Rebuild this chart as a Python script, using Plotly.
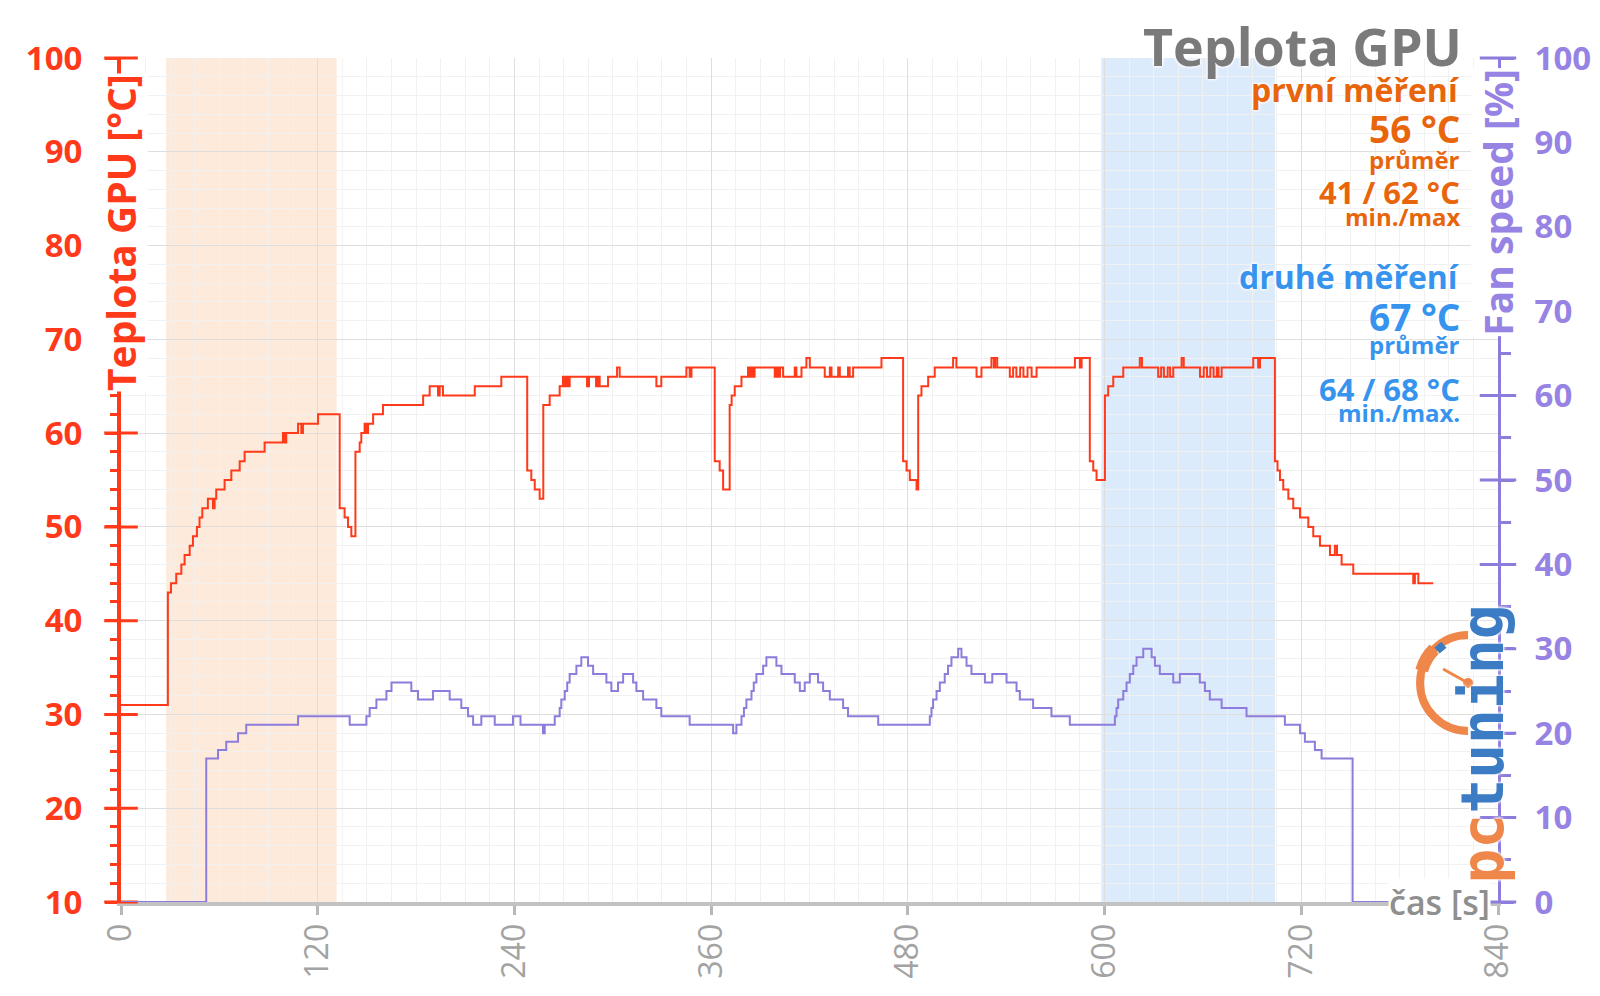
import base64

import plotly.graph_objects as go

RED = "#FF3A1A"
PURPLE = "#8E7CDC"
PURPLE_TXT = "#9683E4"
ORANGE_TXT = "#E8650C"
BLUE_TXT = "#3794EE"
GRAY = "#8f8f8f"
FONT = "Open Sans"

# GPU temperature [°C] - change points (held until next point)
temp_time = [
    0, 28.6, 30.5, 33.7, 36.8, 38.8, 41.9, 43.9, 46.3, 47.9, 49.6, 53.0, 56.1, 57.1,
    58.1, 63.2, 67.3, 72.4, 75.4, 87.6, 98.8, 99.8, 100.8, 108, 110, 111, 120.2,
    133.4, 136.4, 138.5, 140.5, 143.0, 145.6, 146.6, 148.6, 149.7, 150.7, 153.8,
    159.8, 184.3, 188.3, 193.4, 194.4, 196.4, 215.8, 232, 247.8, 250.3, 252.4,
    255.4, 257.6, 261.5, 267.6, 269.6, 270.6, 271.6, 272.6, 273.7, 284.3, 285.5,
    289.8, 291, 292, 297.1, 302.6, 304.2, 326.6, 329.6, 344.9, 346.9, 348, 362.2,
    365.2, 367.3, 371.3, 372.5, 374.4, 378.5, 382.5, 383.5, 384.5, 385.5, 386.5,
    398.8, 400, 401, 402, 403.9, 411, 412, 415.1, 418.1, 420.2, 429.3, 432.4,
    433.4, 437.5, 438.5, 443.5, 444.5, 446.6, 463.9, 477.1, 479.2, 481.2, 485.3,
    486.3, 488.3, 492.4, 496.4, 507.6, 509.6, 521.9, 524.9, 531, 532.5, 533.2,
    534.5, 542.2, 544.2, 546.2, 548.5, 550.5, 553, 555.5, 558.5, 581.9, 584.9,
    586, 591, 593.1, 595.1, 600.2, 602.2, 605.3, 611.4, 621.5, 622.8, 632.7,
    634.5, 636.2, 638.5, 640, 641.9, 647, 648.3, 658.2, 660.5, 662.5, 664.5,
    666.5, 668.5, 669.5, 671.4, 690.7, 693.7, 694.8, 703.9, 705.5, 707, 709,
    712.1, 715.1, 719.2, 724.3, 727.3, 731.4, 737.5, 740.5, 741.8, 744.6, 751.7,
    788.3, 789.3, 791.4, 800.5,
]
temp_value = [
    31, 43, 44, 45, 46, 47, 48, 49, 50, 51, 52, 53, 52, 53,
    54, 55, 56, 57, 58, 59, 60, 59, 60, 61, 60, 61, 62,
    52, 51, 50, 49, 58, 59, 60, 61, 60, 61, 62,
    63, 64, 65, 64, 65, 64, 65, 66, 56, 55, 54,
    53, 63, 64, 65, 66, 65, 66, 65, 66, 65, 66,
    65, 66, 65, 66, 67, 66, 65, 66, 67, 66, 67, 57,
    56, 54, 63, 64, 65, 66, 67, 66, 67, 66, 67,
    66, 67, 66, 67, 66, 67, 66, 67, 68, 67, 66, 67,
    66, 67, 66, 67, 66, 67, 68, 57, 56, 55, 54,
    64, 65, 66, 67, 68, 67, 66, 67, 68, 67, 68,
    67, 66, 67, 66, 67, 66, 67, 66, 67, 68, 67,
    68, 57, 56, 55, 64, 65, 66, 67, 68, 67, 66,
    67, 66, 67, 66, 67, 68, 67, 66, 67, 66, 67,
    66, 67, 66, 67, 68, 67, 68, 57, 56, 55, 54,
    53, 52, 51, 50, 49, 48, 47, 48, 47, 46, 45,
    44, 45, 44, 44,
]

# fan speed [%]
fan_time = [
    0, 52.0, 59.2, 64.2, 71.4, 76.4, 108, 139.5, 149.7, 151.7, 155.8, 161.9, 165,
    177.1, 181.2, 190.3, 200.5, 207.6, 211.7, 214.8, 219.8, 228, 239.1, 243.7,
    257.4, 258.5, 264.6, 267.6, 268.6, 270.7, 272.2, 273.7, 277.8, 280.8, 284.9,
    288, 296.1, 299.1, 303.2, 306.3, 312.4, 314.4, 318.5, 326.6, 329.6, 346.9,
    373.4, 375.4, 378.5, 380, 381.5, 384.6, 386, 387.6, 391.7, 393.7, 399.8,
    402.9, 411, 414.1, 417.1, 420.2, 425.2, 428.3, 432.4, 440.5, 443.5, 461.9,
    493.4, 494.4, 495.4, 497.5, 499.5, 502.5, 504.5, 506.6, 510.7, 512.7, 515.8,
    518.8, 527, 531.5, 540.2, 546.3, 548.3, 556.4, 567.6, 578.8, 606.3, 607.3,
    608.3, 611.4, 613.4, 615.4, 617.5, 619.5, 623.6, 628.7, 630.7, 633.7, 641.9,
    645.9, 658.1, 661.2, 664.2, 671.4, 686.6, 710, 719.2, 722.2, 728.3, 732.4,
    751.3, 800.5,
]
fan_value = [
    0, 17, 18, 19, 20, 21, 22, 21, 22, 23, 24, 25, 26,
    25, 24, 25, 24, 23, 22, 21, 22, 21, 22, 21,
    20, 21, 22, 23, 24, 25, 26, 27, 28, 29, 28,
    27, 26, 25, 26, 27, 26, 25, 24, 23, 22, 21,
    20, 21, 22, 23, 24, 25, 26, 27, 28, 29, 28,
    27, 26, 25, 26, 27, 26, 25, 24, 23, 22, 21,
    22, 23, 24, 25, 26, 27, 28, 29, 30, 29, 28,
    27, 26, 27, 26, 25, 24, 23, 22, 21, 22, 23,
    24, 25, 26, 27, 28, 29, 30, 29, 28, 27, 26,
    27, 26, 25, 24, 23, 22, 21, 20, 19, 18, 17,
    0, 0,
]

# highlighted measurement windows [s]
first_window = [27.5, 131.5]
second_window = [598, 704]

temp_ticks = list(range(10, 101, 10))
fan_ticks = list(range(0, 101, 10))
time_ticks = list(range(0, 841, 120))

notes = [
    ("první měření", 32, ORANGE_TXT, 96.6),
    ("56 °C", 37, ORANGE_TXT, 92.5),
    ("průměr", 24, ORANGE_TXT, 89.2),
    ("41 / 62 °C", 31, ORANGE_TXT, 85.7),
    ("min./max", 24, ORANGE_TXT, 83.1),
    ("druhé měření", 32, BLUE_TXT, 76.7),
    ("67 °C", 37, BLUE_TXT, 72.4),
    ("průměr", 24, BLUE_TXT, 69.5),
    ("64 / 68 °C", 31, BLUE_TXT, 64.7),
    ("min./max.", 24, BLUE_TXT, 62.2),
]

HALO = "0 0 3px white, 0 0 3px white, 0 0 4px white"

fig = go.Figure()

fig.add_vrect(x0=first_window[0], x1=first_window[1], fillcolor="#FDEADA",
              line_width=0, layer="below")
fig.add_vrect(x0=second_window[0], x1=second_window[1], fillcolor="#DCEBFC",
              line_width=0, layer="below")

fig.add_trace(go.Scatter(
    x=fan_time, y=fan_value, yaxis="y2", mode="lines", line_shape="hv",
    line=dict(color=PURPLE, width=2), cliponaxis=False, hoverinfo="skip",
))
fig.add_trace(go.Scatter(
    x=temp_time, y=temp_value, mode="lines", line_shape="hv",
    line=dict(color=RED, width=2), cliponaxis=False, hoverinfo="skip",
))

# crossing major ticks on both value axes
fig.add_trace(go.Scatter(
    x=[0] * len(temp_ticks), y=temp_ticks, mode="markers", cliponaxis=False,
    marker=dict(symbol="line-ew", size=24, line=dict(color=RED, width=3)),
    hoverinfo="skip",
))
fig.add_trace(go.Scatter(
    x=[840] * len(fan_ticks), y=fan_ticks, yaxis="y2", mode="markers", cliponaxis=False,
    marker=dict(symbol="line-ew", size=26, line=dict(color=PURPLE, width=3)),
    hoverinfo="skip",
))

# the page body adds an 8 px offset, so the figure is 8 px smaller on each side
fig.update_layout(
    width=1592, height=988,
    margin=dict(l=113, r=102, t=50, b=94),
    plot_bgcolor="white", paper_bgcolor="white",
    showlegend=False,
    font=dict(family=FONT),
    xaxis=dict(
        range=[0, 840], tickvals=time_ticks, tickangle=-90, automargin=False,
        tickfont=dict(size=32, color="#a3a3a3"),
        ticks="outside", ticklen=9, tickwidth=3, tickcolor="#b8b8b8",
        ticklabelstandoff=-4,
        showline=True, linecolor="#c2c2c2", linewidth=4, layer="below traces",
        showgrid=True, gridcolor="#dedede", gridwidth=1, zeroline=False,
        minor=dict(dtick=15, showgrid=True, gridcolor="#f1f1f1"),
    ),
    yaxis=dict(
        range=[10, 100], tickvals=temp_ticks, automargin=False,
        tickfont=dict(size=33, color=RED, weight="bold"),
        ticks="outside", ticklen=12, tickwidth=3, tickcolor=RED,
        ticklabelstandoff=16,
        showline=True, linecolor=RED, linewidth=4,
        showgrid=True, gridcolor="#dedede", gridwidth=1, zeroline=False,
        minor=dict(dtick=2, ticks="outside", ticklen=7, tickwidth=3, tickcolor=RED,
                   showgrid=True, gridcolor="#f1f1f1"),
    ),
    yaxis2=dict(
        range=[0, 100], tickvals=fan_ticks, overlaying="y", side="right",
        automargin=False,
        tickfont=dict(size=33, color=PURPLE_TXT, weight="bold"),
        ticks="outside", ticklen=13, tickwidth=3, tickcolor=PURPLE,
        ticklabelstandoff=14,
        showline=True, linecolor=PURPLE, linewidth=3,
        showgrid=False, zeroline=False,
        minor=dict(dtick=5, ticks="outside", ticklen=10, tickwidth=3, tickcolor=PURPLE),
    ),
)

fig.add_annotation(
    text="<b>Teplota GPU</b>", xref="paper", yref="paper", x=0.9752, y=1.0154,
    xanchor="right", yanchor="middle", showarrow=False,
    font=dict(size=52, color="#7a7a7a", family=FONT, shadow=HALO),
)
for text, size, color, y in notes:
    fig.add_annotation(
        text=f"<b>{text}</b>", xref="x", yref="y", x=817.5, y=y,
        xanchor="right", yanchor="middle", showarrow=False, borderpad=0,
        font=dict(size=size, color=color, family=FONT, shadow=HALO),
    )

# axis titles sitting on the axis lines
fig.add_annotation(
    text="<b>Teplota GPU [°C]</b>", xref="x", yref="y", x=0, y=98.35,
    xanchor="center", yanchor="top", textangle=-90, showarrow=False,
    bgcolor="white", borderpad=0, font=dict(size=39, color=RED, family=FONT),
)
fig.add_annotation(
    text="<b>Fan speed [%]</b>", xref="x", yref="y2", x=840, y=98.8,
    xanchor="center", yanchor="top", textangle=-90, showarrow=False,
    bgcolor="white", borderpad=0, font=dict(size=39, color=PURPLE_TXT, family=FONT),
)
fig.add_annotation(
    text="čas [s]", xref="x", yref="y2", x=836, y=0,
    xanchor="right", yanchor="middle", showarrow=False,
    bgcolor="white", borderpad=0, font=dict(size=34, color=GRAY, family=FONT, weight=600),
)

# pctuning logo: text + gauge drawing
fig.add_annotation(
    text="<span style='color:#F0874A'>pc</span><span style='color:#3C7CC4'>tuning</span>",
    xref="paper", yref="paper", x=0.9888, y=0.1872, xanchor="center", yanchor="middle",
    textangle=-90, showarrow=False,
    font=dict(size=58, family="DejaVu Sans Mono", weight="bold", shadow=HALO),
)
gauge_svg = (
    "<svg xmlns='http://www.w3.org/2000/svg' width='120' height='120' viewBox='0 0 120 120'>"
    "<path d='M 60 12 A 48 48 0 0 0 60 108' fill='none' stroke='#F0874A' stroke-width='8'/>"
    "<path d='M 13.6 47.6 A 48 48 0 0 1 26.1 26.1' fill='none' stroke='#F0874A' stroke-width='13'/>"
    "<rect x='28' y='21' width='9' height='8' fill='#3C7CC4' transform='rotate(-40 32 25)'/>"
    "<line x1='60' y1='60' x2='35' y2='46' stroke='#F0874A' stroke-width='3'/>"
    "<circle cx='60' cy='60' r='5' fill='#F0874A'/>"
    "</svg>"
)
fig.add_layout_image(
    source="data:image/svg+xml;base64," + base64.b64encode(gauge_svg.encode()).decode(),
    xref="paper", yref="paper", x=0.9347, y=0.3306, sizex=0.08715, sizey=0.1422,
    xanchor="left", yanchor="top", sizing="stretch", layer="above",
)

fig.write_html("out.html")
